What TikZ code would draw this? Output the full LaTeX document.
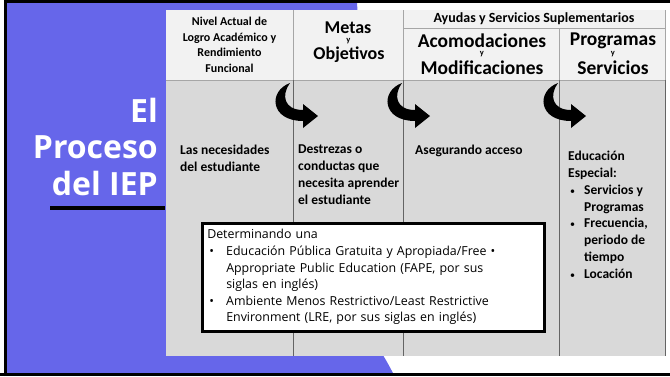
\documentclass[tikz,border=0pt]{standalone}
\usepackage{fontspec}
\setmainfont{Open Sans}
\newfontfamily\calfont{Carlito}
\usetikzlibrary{positioning,calc}

\definecolor{iepblue}{RGB}{102,102,234}
\definecolor{headgray}{RGB}{242,242,242}
\definecolor{cellgray}{RGB}{217,217,217}
\definecolor{linegray}{RGB}{100,100,100}
\definecolor{headline}{RGB}{166,166,166}

\newcommand{\colbul}{\makebox[16pt][l]{\hspace{2pt}{\mdseries\fontsize{10}{10}\selectfont\textbullet}}}
\newcommand{\boxbul}{\makebox[19pt][l]{\hspace{2pt}\textbullet}}

\begin{document}
\begin{tikzpicture}[
  x=1pt,y=-1pt,
  turnarrow/.pic={
    \fill (-3,0) .. controls (-25,8) and (-23,38) .. (10,38)
      -- (10,45) -- (25,33) -- (10,21) -- (10,27)
      .. controls (-9,27) and (-12,12) .. (-3,0) -- cycle;
  },
  ]
  \useasboundingbox (0,0) rectangle (670,376);
  % slide background
  \fill[iepblue] (6,3) -- (357,3) -- (381,352)
    .. controls (386,360) .. (393,373) -- (6,373) -- cycle;
  \draw[line width=3pt] (5.5,376) -- (5.5,1.5) -- (670,1.5);
  \draw[line width=3pt] (0,374.5) -- (670,374.5);

  % table
  \coordinate(tab-nw) at (166,10);
  \coordinate(tab-se) at (665,356);
  \fill[headgray] (tab-nw) rectangle (665,80);
  \fill[cellgray] (166,80) rectangle (tab-se);
  \draw[headline]
    (166,80) -- (665,80)
    (293,10) -- (293,80)
    (403,10) -- (403,80)
    (403,28) -- (665,28)
    (559,28) -- (559,80)
    (665,10) -- (665,80);
  \draw[linegray]
    (293,80) -- (293,356)
    (403,80) -- (403,356)
    (559,80) -- (559,356)
    (665,80) -- (665,356);

  % column heads
  \begin{scope}[
    every node/.style={
      align=center,
      inner sep=0pt,
      font=\calfont\bfseries\fontsize{19.5}{21}\selectfont,
    },
    ]
    \node[font=\calfont\bfseries\fontsize{12}{15.5}\selectfont]
      (plaafp) at (229.5,45) {Nivel Actual de\\Logro Académico y\\Rendimiento\\Funcional};
    \node[font=\calfont\bfseries\fontsize{14}{16}\selectfont]
      (supp) at (534,19) {Ayudas y Servicios Suplementarios};
    \node[font=\calfont\bfseries\fontsize{18}{20}\selectfont] (goals) at (348,28) {Metas};
    \node[font=\calfont\bfseries\fontsize{18}{20}\selectfont] (obj)   at (349,55) {Objetivos};
    \node (accom)   at (482,41) {Acomodaciones};
    \node (modif)   at (482,68) {Modificaciones};
    \node (progr)   at (613,41) {Programas};
    \node (serv)    at (613,68) {Servicios};
  \end{scope}
  \begin{scope}[every node/.style={inner sep=0pt,font=\calfont\bfseries\fontsize{8.5}{9}\selectfont}]
    \node (goals-y) at ($(goals)!0.5!(obj)$)   {y};
    \node (accom-y) at ($(accom)!0.5!(modif)$) {y};
    \node (progr-y) at ($(progr)!0.5!(serv)$)  {y};
  \end{scope}

  % curved arrows between columns
  \pic (turn-a) at (293,83) {turnarrow};
  \pic (turn-b) at (405,83) {turnarrow};
  \pic (turn-c) at (561,83) {turnarrow};

  % column texts
  \begin{scope}[
    every node/.style={
      align=left,
      anchor=north west,
      inner sep=0pt,
      font=\calfont\bfseries\fontsize{13.5}{16.8}\selectfont,
    },
    ]
    \node (needs)  at (180,145) {Las necesidades\\del estudiante};
    \node (skills) at (298,145) {Destrezas o\\conductas que\\necesita aprender\\el estudiante};
    \node (access) at (415,145) {Asegurando acceso};
    \node (sped)   at (568,151) {Educación\\Especial:\\\colbul Servicios y\\\hspace*{16pt}Programas\\\colbul Frecuencia,\\\hspace*{16pt}periodo de\\\hspace*{16pt}tiempo\\\colbul Locación};
  \end{scope}

  % slide title
  \path[every node/.style={anchor=base east,inner sep=0pt,text=white,font=\bfseries\fontsize{32}{36}\selectfont}]
    (158,122) node(title-el){El}
    ++(0,36) node(title-proc){Proceso}
    ++(0,37) node(title-iep){del IEP};
  \draw[line width=4pt] (50,208) -- (165,208);

  % FAPE / LRE box
  \node[draw,line width=2.5pt,fill=white,anchor=north west,align=left,
        inner xsep=5pt,inner ysep=3pt,text width=332pt,minimum height=108pt,
        font=\fontsize{12.4}{16.6}\selectfont]
    (fape) at (201,222)
    {Determinando una\\
     \boxbul Educación Pública Gratuita y Apropiada/Free \textbullet\\
     \hspace*{19pt}Appropriate Public Education (FAPE, por sus\\
     \hspace*{19pt}siglas en inglés)\\
     \boxbul Ambiente Menos Restrictivo/Least Restrictive\\
     \hspace*{19pt}Environment (LRE, por sus siglas en inglés)};
\end{tikzpicture}
\end{document}
